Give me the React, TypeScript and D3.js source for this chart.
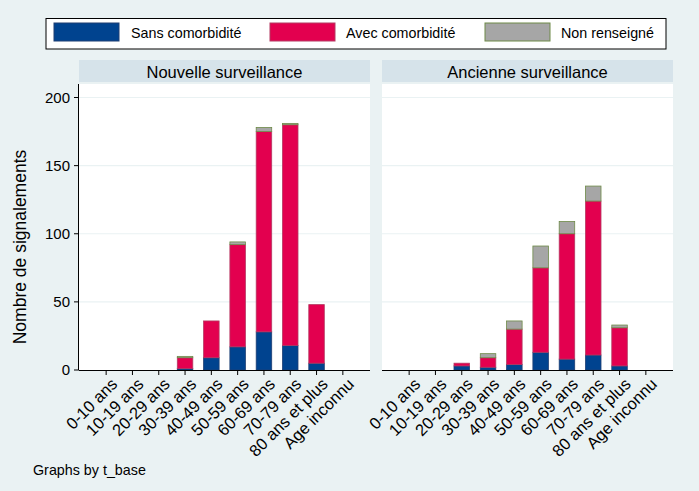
import React from "react";
import * as d3 from "d3";

const categories = ["0-10 ans", "10-19 ans", "20-29 ans", "30-39 ans", "40-49 ans", "50-59 ans", "60-69 ans", "70-79 ans", "80 ans et plus", "Age inconnu"];
const panels = ["Nouvelle surveillance", "Ancienne surveillance"];
const seriesNames = ["Sans comorbidité", "Avec comorbidité", "Non renseigné"];

const nouvelleSans = [0, 0, 0, 1, 9, 17, 28, 18, 5, 0];
const nouvelleAvec = [0, 0, 0, 8, 27, 75, 147, 162, 43, 0];
const nouvelleNon = [0, 0, 0, 1, 0, 2, 3, 1, 0, 0];

const ancienneSans = [0, 0, 3, 2, 4, 13, 8, 11, 3, 0];
const ancienneAvec = [0, 0, 2, 7, 26, 62, 92, 113, 28, 0];
const ancienneNon = [0, 0, 0, 3, 6, 16, 9, 11, 2, 0];

const yTicks = [0, 50, 100, 150, 200];

const fills = ["#00438f", "#e3004f", "#a6a6a6"];
const strokes = ["#1f3f73", "#b33a62", "#6e8a48"];

const W = 699;
const H = 491;
const BG = "#eaf2f3";
const HEADER = "#d6e3ea";
const FONT = "'Liberation Sans', Arial, sans-serif";

export default function App() {
  const panelData = [
    [nouvelleSans, nouvelleAvec, nouvelleNon],
    [ancienneSans, ancienneAvec, ancienneNon],
  ];
  const panelX: [number, number][] = [
    [79, 370],
    [382, 673],
  ];
  const y = d3.scaleLinear().domain([0, 200]).range([370, 97.5]);
  const plotTop = 84;
  const plotBottom = 370;

  const legendItems = [
    { sx: 54, tx: 131 },
    { sx: 270, tx: 346 },
    { sx: 485, tx: 561 },
  ];

  return (
    <svg width={W} height={H} style={{ display: "block", position: "absolute", left: 0, top: 0 }} fontFamily={FONT}>
      <rect x={0} y={0} width={W} height={H} fill={BG} />
      {/* legend */}
      <rect x={46} y={18.5} width={620} height={30.5} fill="#ffffff" stroke="#000" strokeWidth={1} />
      {legendItems.map((it, i) => (
        <g key={i}>
          <rect x={it.sx} y={23} width={65} height={18} fill={fills[i]} stroke={strokes[i]} strokeWidth={1} />
          <text x={it.tx} y={37.5} fontSize={14.3} fill="#000">{seriesNames[i]}</text>
        </g>
      ))}
      {panels.map((name, p) => {
        const [x0, x1] = panelX[p];
        const x = d3.scaleBand<string>().domain(categories).range([x0, x1]).paddingInner(0.41).paddingOuter(0.7375);
        const data = panelData[p];
        const stacked = categories.map((c, i) => {
          let acc = 0;
          return data.map((s) => {
            const v0 = acc;
            acc += s[i];
            return [v0, acc];
          });
        });
        return (
          <g key={name}>
            <rect x={x0} y={60} width={x1 - x0} height={22} fill={HEADER} />
            <text x={(x0 + x1) / 2} y={77.5} textAnchor="middle" fontSize={16.5} fill="#000">{name}</text>
            <rect x={x0} y={plotTop} width={x1 - x0} height={plotBottom - plotTop} fill="#ffffff" />
            {yTicks.filter((t) => t > 0).map((t) => (
              <line key={t} x1={x0} x2={x1} y1={y(t)} y2={y(t)} stroke="#eaf2f3" strokeWidth={1.2} />
            ))}
            {categories.map((c, i) =>
              stacked[i].map(([a, b], s) =>
                b - a > 0 ? (
                  <rect
                    key={c + s}
                    x={x(c)!}
                    y={y(b)}
                    width={x.bandwidth()}
                    height={y(a) - y(b)}
                    fill={fills[s]}
                    stroke={strokes[s]}
                    strokeWidth={0.8}
                  />
                ) : null
              )
            )}
            <line x1={x0} x2={x1} y1={plotBottom + 0.5} y2={plotBottom + 0.5} stroke="#000" strokeWidth={1} />
            {categories.map((c) => {
              const cx = x(c)! + x.bandwidth() / 2;
              return (
                <g key={c}>
                  <line x1={cx} x2={cx} y1={plotBottom} y2={plotBottom + 5} stroke="#000" strokeWidth={1} />
                  <text
                    transform={`translate(${cx + 4},${plotBottom + 7}) rotate(-45)`}
                    textAnchor="end"
                    dy="0.7em"
                    fontSize={16.5}
                    fill="#000"
                  >
                    {c}
                  </text>
                </g>
              );
            })}
            {p === 0 && (
              <g>
                <line x1={x0 - 0.5} x2={x0 - 0.5} y1={plotTop} y2={plotBottom} stroke="#000" strokeWidth={1} />
                {yTicks.map((t) => (
                  <g key={t}>
                    <line x1={x0 - 5} x2={x0} y1={y(t)} y2={y(t)} stroke="#000" strokeWidth={1} />
                    <text x={x0 - 9} y={y(t)} dy="0.36em" textAnchor="end" fontSize={15} fill="#000">{t}</text>
                  </g>
                ))}
              </g>
            )}
          </g>
        );
      })}
      <text transform={`translate(26,247) rotate(-90)`} textAnchor="middle" fontSize={17.5} fill="#000">Nombre de signalements</text>
      <text x={33} y={475} fontSize={14.3} fill="#000">Graphs by t_base</text>
    </svg>
  );
}
